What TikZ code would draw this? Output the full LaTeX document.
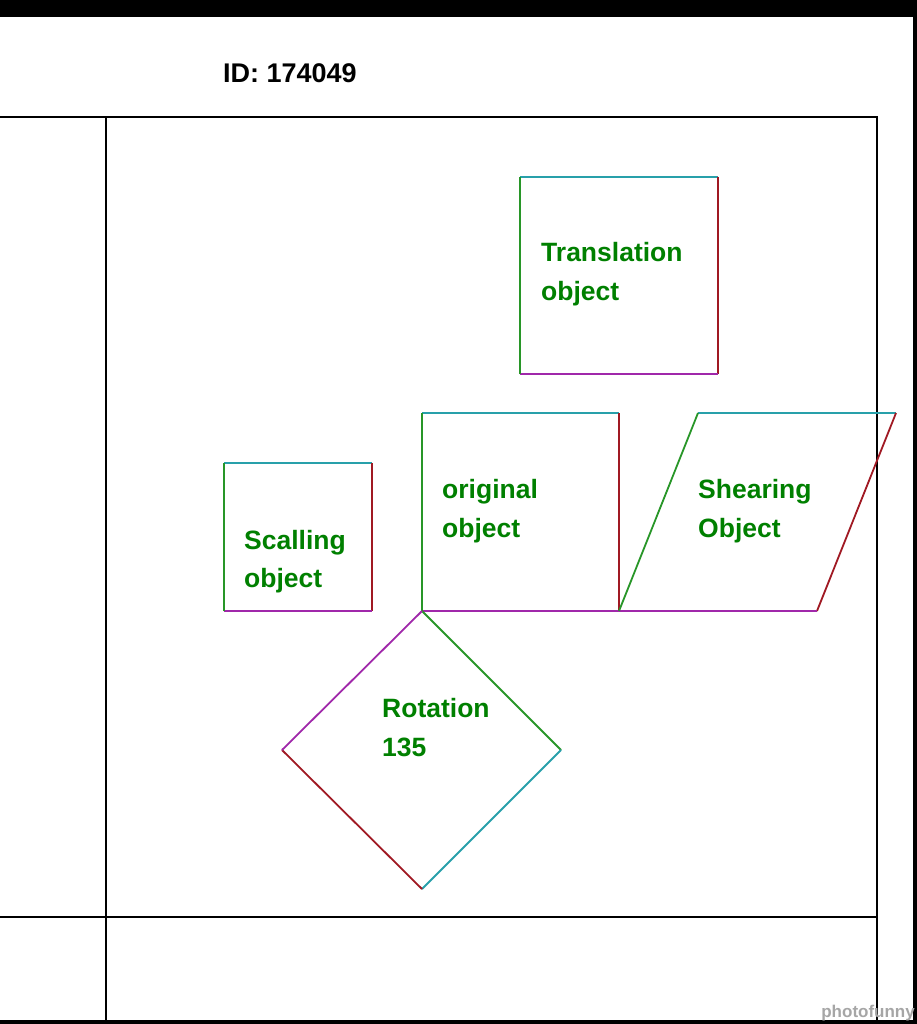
\documentclass[tikz,border=0pt]{standalone}
\usepackage{fontspec}
\setmainfont{Liberation Sans}
\definecolor{lgreen}{RGB}{40,150,40}
\definecolor{tgreen}{RGB}{0,128,0}
\definecolor{lteal}{RGB}{40,160,170}
\definecolor{lred}{RGB}{160,25,35}
\definecolor{lpurple}{RGB}{160,40,170}
\tikzset{
  frame/.style={draw=black,line width=1.9pt},
  eg/.style={draw=lgreen,line width=1.8pt},
  et/.style={draw=lteal,line width=1.8pt},
  er/.style={draw=lred,line width=1.8pt},
  ep/.style={draw=lpurple,line width=1.8pt},
  lbl/.style={anchor=base west,inner sep=0pt,text=tgreen,font=\fontsize{26.5}{30}\selectfont\bfseries}
}
\begin{document}
\begin{tikzpicture}[x=1pt,y=-1pt]
\useasboundingbox (0,0) rectangle (917,1024);
\fill[white] (0,0) rectangle (917,1024);
% black borders
\fill[black] (0,0) rectangle (917,17);
\fill[black] (913,0) rectangle (917,1024);
\fill[black] (0,1020) rectangle (917,1024);
% frame
\coordinate (f1) at (0,117);
\coordinate (f2) at (877,117);
\coordinate (f3) at (877,1020);
\coordinate (f4) at (0,917);
\coordinate (f5) at (877,917);
\coordinate (f6) at (106,117);
\coordinate (f7) at (106,1020);
\draw[frame] (f1) -- (f2) -- (f3);
\draw[frame] (f4) -- (f5);
\draw[frame] (f6) -- (f7);
\node[anchor=base west,inner sep=0pt,font=\fontsize{27}{30}\selectfont\bfseries] (id) at (223,83) {ID: 174049};
% translation box
\coordinate (t1) at (520,177); \coordinate (t2) at (718,177);
\coordinate (t3) at (718,374); \coordinate (t4) at (520,374);
\draw[et] (t1) -- (t2); \draw[er] (t2) -- (t3);
\draw[ep] (t3) -- (t4); \draw[eg] (t4) -- (t1);
\node[lbl] (tl1) at (541,261) {Translation};
\node[lbl] (tl2) at (541,300) {object};
% original box
\coordinate (o1) at (422,413); \coordinate (o2) at (619,413);
\coordinate (o3) at (619,611); \coordinate (o4) at (422,611);
\draw[et] (o1) -- (o2); \draw[er] (o2) -- (o3);
\draw[ep] (o3) -- (o4); \draw[eg] (o4) -- (o1);
\node[lbl] (ol1) at (442,498) {original};
\node[lbl] (ol2) at (442,537) {object};
% shearing
\coordinate (s1) at (698,413); \coordinate (s2) at (896,413);
\coordinate (s3) at (817,611); \coordinate (s4) at (619,611);
\draw[et] (s1) -- (s2); \draw[er] (s2) -- (s3);
\draw[ep] (s3) -- (s4); \draw[eg] (s4) -- (s1);
\node[lbl] (sl1) at (698,498) {Shearing};
\node[lbl] (sl2) at (698,537) {Object};
% scaling
\coordinate (c1) at (224,463); \coordinate (c2) at (372,463);
\coordinate (c3) at (372,611); \coordinate (c4) at (224,611);
\draw[et] (c1) -- (c2); \draw[er] (c2) -- (c3);
\draw[ep] (c3) -- (c4); \draw[eg] (c4) -- (c1);
\node[lbl] (cl1) at (244,549) {Scalling};
\node[lbl] (cl2) at (244,587) {object};
% rotation
\coordinate (r1) at (422,611); \coordinate (r2) at (561,750);
\coordinate (r3) at (422,889); \coordinate (r4) at (282,750);
\draw[eg] (r1) -- (r2); \draw[et] (r2) -- (r3);
\draw[er] (r3) -- (r4); \draw[ep] (r4) -- (r1);
\node[lbl] (rl1) at (382,717) {Rotation};
\node[lbl] (rl2) at (382,756) {135};
% watermark
\node[anchor=base east,inner sep=0pt,text=black!35,font=\fontsize{17}{20}\selectfont\bfseries] (wm) at (915,1017) {photofunny};
\end{tikzpicture}
\end{document}
